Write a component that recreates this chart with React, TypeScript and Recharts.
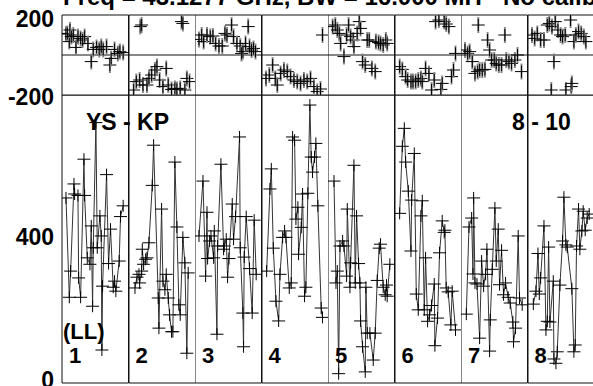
import { LineChart, Line, ScatterChart, Scatter, XAxis, YAxis, ReferenceLine } from 'recharts';

const FONT = '"Liberation Sans", Arial, Helvetica, sans-serif';

// tick positions and labels
const timeTicks = [0.3, 0.6, 0.9, 0.955];
const ampTicks = [0, 200, 400, 600];
const ampLabels = [0, 400];
const phaseTicks = [-200, 200];
const phaseLabels = [-200, 200];
const panelNames = ['1', '2', '3', '4', '5', '6', '7', '8'];

// amplitude per IF: [time fraction, amplitude]
const amp1 = [[0.06, 508], [0.11, 231], [0.13, 304], [0.18, 547], [0.19, 519], [0.24, 515], [0.25, 285], [0.28, 231], [0.33, 616], [0.34, 515], [0.38, 341], [0.42, 323], [0.44, 430], [0.46, 206], [0.47, 369], [0.51, 718], [0.53, 369], [0.57, 458], [0.59, 402], [0.6, 84], [0.61, 262], [0.67, 573], [0.7, 325], [0.73, 421], [0.77, 259], [0.79, 276], [0.81, 248], [0.86, 332], [0.88, 456], [0.92, 486]];
const amp2 = [[0.09, 257], [0.12, 287], [0.15, 295], [0.16, 271], [0.19, 304], [0.2, 365], [0.22, 323], [0.25, 337], [0.27, 341], [0.3, 383], [0.35, 543], [0.37, 655], [0.44, 229], [0.45, 145], [0.49, 477], [0.51, 276], [0.54, 252], [0.56, 295], [0.59, 229], [0.61, 182], [0.64, 135], [0.66, 135], [0.69, 608], [0.72, 427], [0.75, 210], [0.77, 182], [0.81, 398], [0.84, 327], [0.87, 75], [0.89, 299]];
const amp3 = [[0.06, 402], [0.12, 555], [0.16, 290], [0.18, 468], [0.19, 339], [0.22, 388], [0.24, 402], [0.28, 341], [0.29, 416], [0.33, 128], [0.34, 374], [0.39, 602], [0.43, 365], [0.44, 374], [0.47, 393], [0.49, 287], [0.51, 339], [0.56, 491], [0.58, 393], [0.61, 456], [0.67, 678], [0.68, 369], [0.72, 187], [0.73, 93], [0.74, 343], [0.77, 456], [0.82, 311], [0.86, 187], [0.89, 446], [0.92, 295]];
const amp4 = [[0.07, 304], [0.12, 533], [0.14, 589], [0.17, 368], [0.21, 220], [0.25, 165], [0.27, 295], [0.31, 398], [0.34, 416], [0.36, 398], [0.41, 257], [0.44, 271], [0.46, 678], [0.49, 669], [0.51, 449], [0.54, 482], [0.55, 351], [0.59, 426], [0.61, 519], [0.64, 234], [0.66, 259], [0.69, 521], [0.72, 767], [0.74, 622], [0.76, 580], [0.79, 622], [0.81, 660], [0.84, 486], [0.89, 201], [0.91, 175]];
const amp5 = [[0.09, 555], [0.12, 271], [0.14, 304], [0.16, 18], [0.18, 374], [0.22, 388], [0.24, 374], [0.28, 290], [0.29, 477], [0.33, 259], [0.34, 327], [0.39, 599], [0.41, 271], [0.43, 458], [0.46, 325], [0.48, 271], [0.49, 165], [0.52, 93], [0.56, 23], [0.57, 259], [0.59, 131], [0.63, 131], [0.68, 56], [0.71, 131], [0.74, 278], [0.77, 368], [0.79, 379], [0.83, 259], [0.86, 238], [0.88, 265], [0.89, 234], [0.93, 323]];
const amp6 = [[0.07, 465], [0.11, 652], [0.14, 702], [0.16, 608], [0.2, 527], [0.24, 360], [0.25, 502], [0.29, 632], [0.32, 240], [0.35, 196], [0.39, 458], [0.41, 500], [0.44, 196], [0.46, 341], [0.49, 164], [0.52, 182], [0.55, 208], [0.59, 268], [0.6, 96], [0.64, 173], [0.67, 355], [0.71, 444], [0.74, 412], [0.75, 418], [0.77, 257], [0.8, 246], [0.84, 154], [0.86, 248], [0.91, 140]];
const amp7 = [[0.08, 184], [0.12, 427], [0.16, 452], [0.18, 296], [0.19, 508], [0.21, 271], [0.24, 268], [0.28, 117], [0.31, 332], [0.34, 262], [0.37, 295], [0.39, 365], [0.43, 81], [0.44, 168], [0.47, 309], [0.51, 480], [0.53, 332], [0.56, 421], [0.58, 266], [0.61, 362], [0.64, 238], [0.67, 271], [0.71, 231], [0.74, 215], [0.78, 162], [0.79, 107], [0.82, 145], [0.86, 402], [0.88, 229], [0.92, 210]];
const amp8 = [[0.08, 212], [0.12, 248], [0.15, 353], [0.17, 240], [0.19, 285], [0.24, 430], [0.27, 140], [0.29, 164], [0.31, 371], [0.33, 162], [0.38, 276], [0.39, 59], [0.42, 47], [0.44, 79], [0.48, 265], [0.52, 388], [0.54, 510], [0.57, 377], [0.59, 371], [0.66, 255], [0.69, 79], [0.71, 98], [0.73, 374], [0.76, 477], [0.78, 365], [0.81, 416], [0.83, 471], [0.86, 418], [0.89, 452], [0.92, 463]];

// phase per IF: [time fraction, degrees]
const phase1 = [[0.06, 105], [0.08, 108], [0.11, 67], [0.12, 125], [0.14, 92], [0.17, 100], [0.21, 38], [0.24, 92], [0.28, 83], [0.31, 75], [0.34, 92], [0.39, 58], [0.44, -33], [0.47, 28], [0.52, 38], [0.56, 28], [0.59, 42], [0.62, 28], [0.67, 42], [0.72, -50], [0.74, -17], [0.79, 28], [0.84, 8], [0.87, 17], [0.92, 12]];
const phase2 = [[0.07, -175], [0.11, -133], [0.16, -125], [0.17, 142], [0.19, 150], [0.21, -150], [0.27, -150], [0.3, -117], [0.34, -100], [0.39, -75], [0.42, -58], [0.46, -125], [0.51, -158], [0.56, -67], [0.59, -150], [0.64, -172], [0.69, -167], [0.72, -172], [0.77, -167], [0.79, 167], [0.81, 158], [0.84, -175], [0.87, -117], [0.91, -133]];
const phase3 = [[0.06, 78], [0.1, 100], [0.13, 67], [0.18, 100], [0.23, 92], [0.27, 95], [0.31, 58], [0.36, 45], [0.41, 45], [0.45, 108], [0.48, 100], [0.55, 150], [0.58, 92], [0.63, 58], [0.68, 45], [0.7, 8], [0.72, 17], [0.76, 58], [0.8, 142], [0.82, 42], [0.85, 25], [0.88, 33], [0.91, 17]];
const phase4 = [[0.06, -117], [0.11, -100], [0.16, -50], [0.2, -117], [0.23, -150], [0.28, -92], [0.33, -75], [0.38, -83], [0.43, -108], [0.48, -125], [0.53, -133], [0.58, -142], [0.63, -125], [0.68, -133], [0.73, -117], [0.78, -158], [0.83, -183], [0.88, -170], [0.91, 100]];
const phase5 = [[0.07, 142], [0.11, 150], [0.14, 125], [0.17, 108], [0.19, 58], [0.24, -8], [0.28, 100], [0.31, 150], [0.34, 92], [0.38, 75], [0.39, 42], [0.44, 108], [0.47, 167], [0.49, 133], [0.52, -33], [0.56, -50], [0.59, 75], [0.62, 75], [0.66, -67], [0.71, -83], [0.72, 67], [0.76, 62], [0.79, 58], [0.83, 50], [0.87, 75], [0.89, 58]];
const phase6 = [[0.07, -58], [0.11, -72], [0.16, -108], [0.19, -125], [0.24, -133], [0.27, -133], [0.31, -133], [0.35, -125], [0.39, -117], [0.41, -133], [0.46, -67], [0.51, -92], [0.55, -175], [0.59, -125], [0.61, 167], [0.66, 175], [0.69, -172], [0.71, -142], [0.74, 167], [0.77, 155], [0.81, 142], [0.85, -108], [0.88, -75], [0.91, 8]];
const phase7 = [[0.06, 25], [0.1, 8], [0.13, 17], [0.17, -33], [0.21, -92], [0.25, -83], [0.26, 150], [0.28, -75], [0.32, -75], [0.36, -72], [0.4, 75], [0.43, 25], [0.46, -25], [0.5, -25], [0.53, -42], [0.57, -50], [0.61, -50], [0.66, 100], [0.68, -25], [0.72, -33], [0.76, -42], [0.81, -25], [0.85, 0], [0.91, -83]];
const phase8 = [[0.06, 100], [0.1, 83], [0.14, 108], [0.19, 75], [0.24, 75], [0.29, 150], [0.32, 158], [0.35, -175], [0.36, 142], [0.39, -33], [0.41, 167], [0.45, 125], [0.49, 100], [0.52, 92], [0.56, 100], [0.57, -175], [0.64, 175], [0.65, -158], [0.66, -142], [0.69, 67], [0.72, 100], [0.76, 117], [0.8, 108], [0.84, 92], [0.87, 67]];

const ampSets = [amp1, amp2, amp3, amp4, amp5, amp6, amp7, amp8];
const phaseSets = [phase1, phase2, phase3, phase4, phase5, phase6, phase7, phase8];

const LEFT = 62;
const PW = 66.5;
const INK = '#111';
const AMP_DOMAIN = [-8, 795];
const PHASE_DOMAIN = [-200, 200];

const Cross = (props: any) => {
  const { cx, cy } = props;
  if (cx == null || cy == null) return <g />;
  return (
    <g>
      <line x1={cx - 6.5} x2={cx + 6.5} y1={cy} y2={cy} stroke="#000" strokeWidth={1} />
      <line x1={cx} x2={cx} y1={cy - 6} y2={cy + 6} stroke="#000" strokeWidth={1} />
    </g>
  );
};

const PhaseMark = (props: any) => {
  const { cx, cy } = props;
  if (cx == null || cy == null) return <g />;
  return (
    <g>
      <line x1={cx} x2={cx} y1={cy - 8} y2={cy + 8} stroke="#888" strokeWidth={2} />
      <line x1={cx - 6.5} x2={cx + 6.5} y1={cy} y2={cy} stroke="#000" strokeWidth={1} />
      <line x1={cx} x2={cx} y1={cy - 6} y2={cy + 6} stroke="#000" strokeWidth={1} />
    </g>
  );
};

const LabelTick = (props: any) => {
  const { x, y, payload } = props;
  const shift = payload.value === 200 ? 4 : payload.value === -200 ? 2 : 0;
  return (
    <text x={x} y={y + shift} dy="0.355em" textAnchor="end" fontFamily={FONT} fontWeight="bold" fontSize={23} fill="#000">
      {payload.value}
    </text>
  );
};

const toRows = (set: number[][]) => set.map(([t, v]) => ({ t, v }));

// shared frame: inward ticks on all four sides of a panel
const frameX = (id: string, orientation: 'top' | 'bottom') => (
  <XAxis xAxisId={id} dataKey="t" type="number" domain={[0, 1]} allowDataOverflow ticks={timeTicks} orientation={orientation} mirror tick={false} tickSize={5} stroke={INK} />
);
const frameY = (id: string, orientation: 'left' | 'right', domain: number[], ticks: number[]) => (
  <YAxis yAxisId={id} dataKey="v" type="number" domain={domain} allowDataOverflow ticks={ticks} orientation={orientation} mirror tick={false} tickSize={5} stroke={INK} />
);

function AmpPanel({ set, i }: { set: number[][]; i: number }) {
  const first = i === 0;
  return (
    <div style={{ position: 'absolute', left: first ? 0 : LEFT + i * PW, top: 95 }}>
      <LineChart width={PW + (first ? LEFT : 0)} height={300} data={toRows(set)} margin={{ top: 0, right: 0, bottom: 12, left: 0 }}>
        {frameX('b', 'bottom')}
        {frameX('t', 'top')}
        {first && (
          <YAxis yAxisId="lab" type="number" domain={AMP_DOMAIN} allowDataOverflow ticks={ampLabels} interval={0} width={LEFT} axisLine={false} tickLine={false} tick={LabelTick} />
        )}
        {frameY('l', 'left', AMP_DOMAIN, ampTicks)}
        {frameY('r', 'right', AMP_DOMAIN, ampTicks)}
        <Line xAxisId="b" yAxisId="l" dataKey="v" stroke="#333" strokeWidth={1} dot={Cross} activeDot={false} isAnimationActive={false} />
      </LineChart>
    </div>
  );
}

function PhasePanel({ set, i }: { set: number[][]; i: number }) {
  const first = i === 0;
  return (
    <div style={{ position: 'absolute', left: first ? 0 : LEFT + i * PW, top: 0 }}>
      <ScatterChart width={PW + (first ? LEFT : 0)} height={107} margin={{ top: 15, right: 0, bottom: 12, left: 0 }}>
        {frameX('b', 'bottom')}
        {frameX('t', 'top')}
        {first && (
          <YAxis yAxisId="lab" type="number" domain={PHASE_DOMAIN} allowDataOverflow ticks={phaseLabels} interval={0} width={LEFT} axisLine={false} tickLine={false} tick={LabelTick} />
        )}
        {frameY('l', 'left', PHASE_DOMAIN, phaseTicks)}
        {frameY('r', 'right', PHASE_DOMAIN, phaseTicks)}
        <ReferenceLine xAxisId="b" yAxisId="l" y={0} stroke={INK} />
        <Scatter xAxisId="b" yAxisId="l" data={toRows(set)} shape={PhaseMark} isAnimationActive={false} />
      </ScatterChart>
    </div>
  );
}

export default function App() {
  const txt = { fontFamily: FONT, fontWeight: 'bold' as const, fill: '#000' };
  return (
    <div style={{ position: 'fixed', left: 0, top: 0, width: 593, height: 386, overflow: 'hidden', background: '#fff' }}>
      {phaseSets.map((s, i) => (
        <PhasePanel key={'p' + i} set={s} i={i} />
      ))}
      {ampSets.map((s, i) => (
        <AmpPanel key={'a' + i} set={s} i={i} />
      ))}
      <svg width={593} height={386} style={{ position: 'absolute', left: 0, top: 0, pointerEvents: 'none' }}>
        <text x={63} y={5} fontSize={24} {...txt}>Freq = 43.1277 GHz, BW = 16.000 MH</text>
        <text x={503} y={5} fontSize={24} {...txt}>No calibration</text>
        <text x={86} y={130} fontSize={23} {...txt}>YS - KP</text>
        <text x={512} y={130} fontSize={23} {...txt}>8 - 10</text>
        <text x={63} y={339} fontSize={22} {...txt}>(LL)</text>
        {panelNames.map((n, i) => (
          <text key={n} x={LEFT + i * PW + 7} y={363} fontSize={22} {...txt}>
            {n}
          </text>
        ))}
      </svg>
    </div>
  );
}
